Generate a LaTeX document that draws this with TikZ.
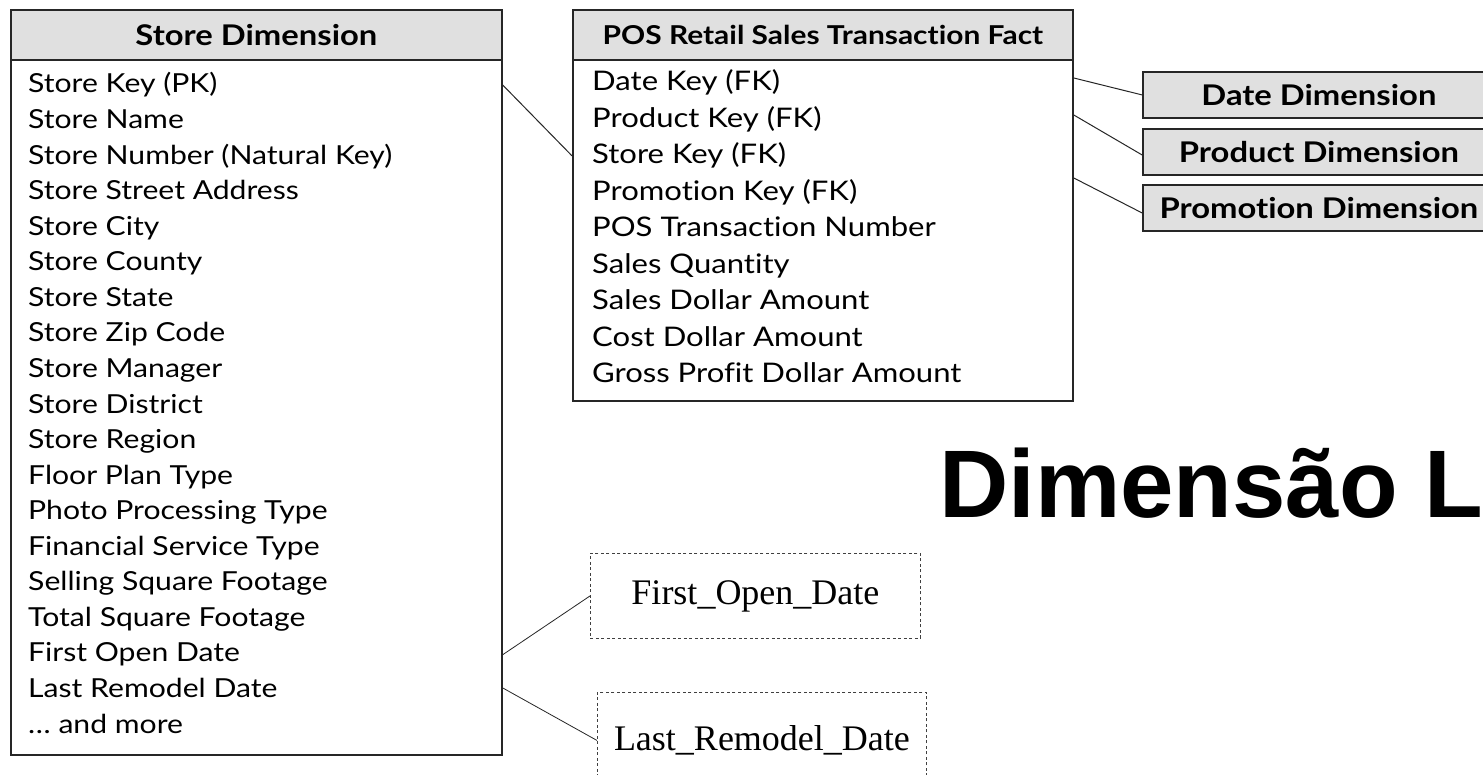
\documentclass[tikz,border=0pt]{standalone}
\usepackage{fontspec}
\setmainfont[Ligatures=NoCommon, FakeStretch=1.15]{Lato}
\newfontfamily\timesfont{Liberation Serif}
\newfontfamily\arialfont{Liberation Sans}
\begin{document}
\begin{tikzpicture}[x=1pt,y=-1pt,
  frame/.style={draw=black!85, line width=1.8pt, fill=white, inner sep=0pt, anchor=north west},
  headcell/.style={draw=black!85, line width=1.8pt, fill=black!12, inner sep=0pt, anchor=north west,
    minimum height=50pt},
  rowtext/.style={anchor=base west, inner sep=0pt, font=\fontsize{27}{30}\selectfont},
  dimbox/.style={draw=black!85, line width=1.8pt, fill=black!12, inner sep=0pt, anchor=north west,
    minimum width=352pt, minimum height=46pt, font=\bfseries\fontsize{28.5}{32}\selectfont},
  link/.style={draw=black!85, line width=1pt},
  notebox/.style={draw=black!75, dash pattern=on 3pt off 2.5pt, line width=0.9pt, inner sep=0pt,
    anchor=north west, font=\timesfont\fontsize{36}{40}\selectfont},
]
\useasboundingbox (0,0) rectangle (1483,775);
\clip (0,0) rectangle (1483,775);
\fill[white] (0,0) rectangle (1483,775);

% Store dimension table
\node[frame, minimum width=491pt, minimum height=745pt] (store) at (10,9) {};
\node[headcell, minimum width=491pt, font=\bfseries\fontsize{28.5}{32}\selectfont] (storehead) at (10,9) {Store Dimension};
\foreach \t [count=\i] in {Store Key (PK), Store Name, Store Number (Natural Key),
  Store Street Address, Store City, Store County, Store State, Store Zip Code,
  Store Manager, Store District, Store Region, Floor Plan Type, Photo Processing Type,
  Financial Service Type, Selling Square Footage, Total Square Footage,
  First Open Date, Last Remodel Date, … and more}
  \node[rowtext, font=\fontsize{26.2}{30}\selectfont] (s\i) at (28,{93+(\i-1)*35.56}) {\t};

% Fact table
\node[frame, minimum width=500pt, minimum height=391pt] (fact) at (572,9) {};
\node[headcell, minimum width=500pt, font=\bfseries\fontsize{26}{30}\selectfont] (facthead) at (572,9) {POS Retail Sales Transaction Fact};
\foreach \t [count=\i] in {Date Key (FK), Product Key (FK), Store Key (FK),
  Promotion Key (FK), POS Transaction Number, Sales Quantity, Sales Dollar Amount,
  Cost Dollar Amount, Gross Profit Dollar Amount}
  \node[rowtext] (f\i) at (592,{91+(\i-1)*36.5}) {\t};

% Dimension boxes
\node[dimbox] (date) at (1142,71) {Date Dimension};
\node[dimbox] (product) at (1142,128) {Product Dimension};
\node[dimbox] (promo) at (1142,184) {Promotion Dimension};

% Attribute notes
\node[notebox, minimum width=330pt, minimum height=85pt] (firstopen) at (590,553) {First\_Open\_Date};
\node[notebox, minimum width=329pt, minimum height=96pt] (lastremodel) at (597,692) {Last\_Remodel\_Date};

% Connectors
\draw[link] (store.east |- s1) -- (fact.west |- f3);
\draw[link] ([yshift=-69pt]fact.north east) -- (date.west);
\draw[link] ([yshift=-106pt]fact.north east) -- ([yshift=-3pt]product.west);
\draw[link] ([yshift=-169pt]fact.north east) -- ([yshift=-5pt]promo.west);
\draw[link, line width=0.8pt] (store.east |- s17) -- (firstopen.west);
\draw[link, line width=0.8pt] (store.east |- s18) -- (lastremodel.west);

% Title
\node[anchor=base west, inner sep=0pt, font=\arialfont\bfseries\fontsize{96}{110}\selectfont] (title) at (939,517) {Dimensão L};
\end{tikzpicture}
\end{document}
